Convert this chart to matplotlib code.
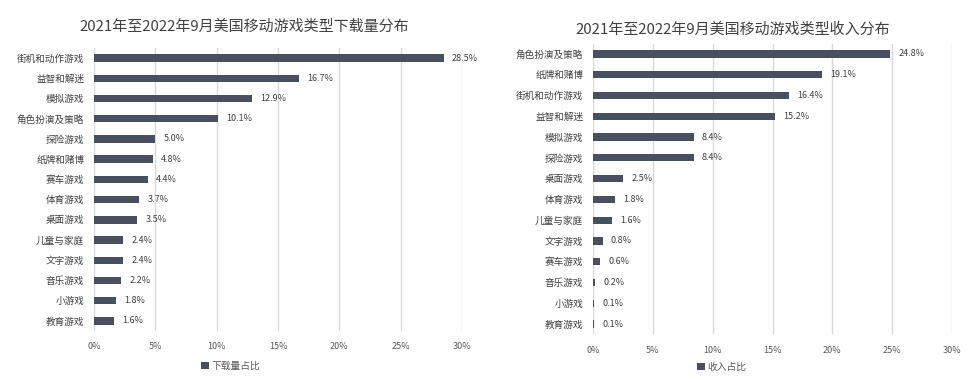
import matplotlib.pyplot as plt
from matplotlib.ticker import FuncFormatter

plt.rcParams['font.family'] = ['Noto Sans CJK SC', 'DejaVu Sans']

download_genres = ["街机和动作游戏", "益智和解迷", "模拟游戏", "角色扮演及策略", "探险游戏",
                   "纸牌和赌博", "赛车游戏", "体育游戏", "桌面游戏", "儿童与家庭",
                   "文字游戏", "音乐游戏", "小游戏", "教育游戏"]
download_share = [28.5, 16.7, 12.9, 10.1, 5.0, 4.8, 4.4, 3.7, 3.5, 2.4, 2.4, 2.2, 1.8, 1.6]

revenue_genres = ["角色扮演及策略", "纸牌和赌博", "街机和动作游戏", "益智和解迷", "模拟游戏",
                  "探险游戏", "桌面游戏", "体育游戏", "儿童与家庭", "文字游戏",
                  "赛车游戏", "音乐游戏", "小游戏", "教育游戏"]
revenue_share = [24.8, 19.1, 16.4, 15.2, 8.4, 8.4, 2.5, 1.8, 1.6, 0.8, 0.6, 0.2, 0.1, 0.1]

x_ticks = [0, 5, 10, 15, 20, 25, 30]

BAR = "#48505f"
GRID = "#d9d9d9"
TEXT = "#595959"
LABEL = "#404040"

fig = plt.figure(figsize=(9.76, 3.82), dpi=100)
fig.patch.set_facecolor("white")


def draw_panel(rect, genres, values, title, title_xy, legend_label, legend_xy, bar_h):
    ax = fig.add_axes(rect)
    ypos = list(range(len(genres)))
    bars = ax.barh(ypos, values, height=bar_h, color=BAR, label=legend_label, zorder=3)
    ax.set_yticks(ypos)
    ax.set_yticklabels(genres, fontsize=6.9, color=LABEL)
    ax.set_ylim(len(genres) - 0.5, -0.5)
    ax.set_xlim(0, 30)
    ax.set_xticks(x_ticks)
    ax.xaxis.set_major_formatter(FuncFormatter(lambda v, p: f"{v:.0f}%"))
    ax.tick_params(axis="x", labelsize=6.5, colors=TEXT, length=0, pad=8)
    ax.tick_params(axis="y", length=0, pad=7)
    ax.grid(axis="x", color=GRID, linewidth=1, zorder=0)
    for s in ax.spines.values():
        s.set_visible(False)
    for b, v in zip(bars, values):
        ax.annotate(f"{v:.1f}%", (b.get_width(), b.get_y() + b.get_height() / 2),
                    xytext=(6, 0), textcoords="offset points", va="center", ha="left",
                    fontsize=6.5, color=LABEL)
    fig.text(title_xy[0], title_xy[1], title, ha="center", va="center",
             fontsize=10.8, color=LABEL)
    fig.legend(handles=[bars], labels=[legend_label], loc="center",
               bbox_to_anchor=legend_xy, frameon=False, fontsize=7,
               handlelength=0.8, handleheight=0.8, handletextpad=0.3,
               labelcolor=TEXT)
    return ax


draw_panel([94 / 976, 1 - 331 / 382, 368 / 976, 283 / 382],
           download_genres, download_share,
           "2021年至2022年9月美国移动游戏类型下载量分布", (244 / 976, 1 - 27 / 382),
           "下载量占比", (231 / 976, 1 - 366 / 382), 0.37)

draw_panel([593 / 976, 1 - 334.4 / 382, 359 / 976, 290.8 / 382],
           revenue_genres, revenue_share,
           "2021年至2022年9月美国移动游戏类型收入分布", (733 / 976, 1 - 30 / 382),
           "收入占比", (722 / 976, 1 - 367 / 382), 0.35)

fig.savefig("out.png", dpi=100)
